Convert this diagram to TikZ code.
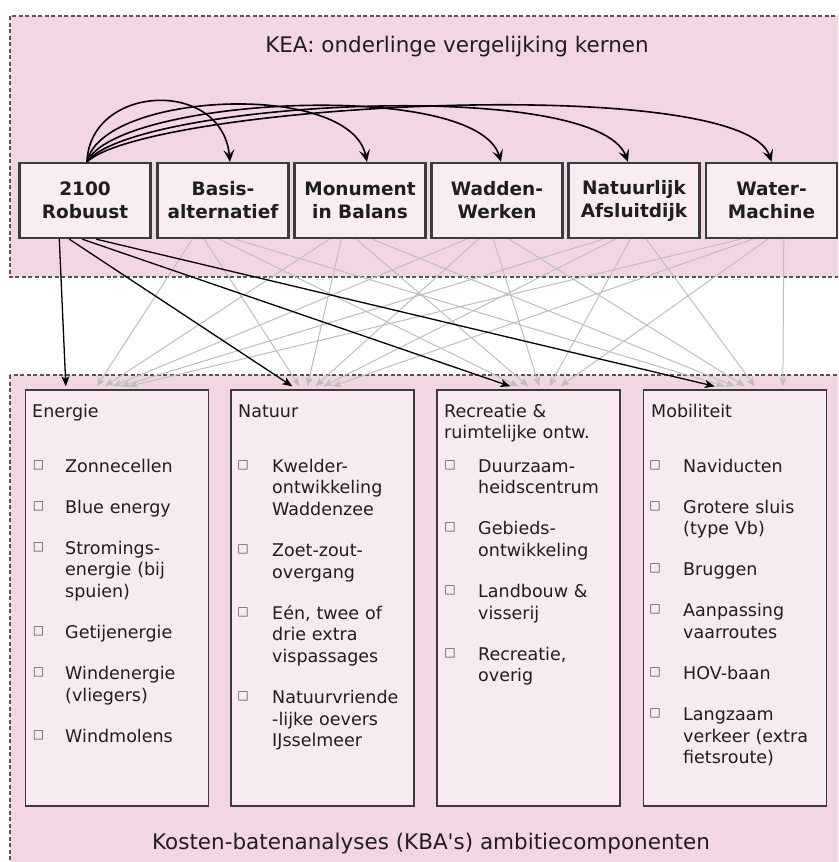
\documentclass[tikz,border=0pt]{standalone}
\usepackage{fontspec}
\usetikzlibrary{calc,arrows.meta}
\newfontfamily\dvsans{DejaVu Sans}
\definecolor{regpink}{RGB}{243,214,228}
\definecolor{boxpink}{RGB}{248,234,241}
\definecolor{tboxpink}{RGB}{249,237,243}
\definecolor{edgegray}{RGB}{60,60,60}
\definecolor{dashgray}{RGB}{85,85,85}
\definecolor{linegray}{RGB}{190,190,190}
\definecolor{txt}{RGB}{30,30,30}
\tikzset{
  region/.style={fill=regpink, draw=dashgray, line width=1.2pt, dash pattern=on 4pt off 2.5pt},
  tbox/.style={draw=edgegray, fill=tboxpink, line width=2.4pt, minimum width=131pt, minimum height=75pt,
    inner sep=0pt, align=center, text=txt, font={\dvsans\bfseries\fontsize{18.5}{23}\selectfont}},
  bbox/.style={draw=edgegray, fill=boxpink, line width=1.3pt, minimum width=183pt, minimum height=416pt, inner sep=0pt},
  title/.style={text=txt, inner sep=0pt, font={\dvsans\fontsize{21.5}{26}\selectfont}},
  head/.style={anchor=base west, inner sep=0pt, text=txt, text width=175pt, align=left,
    font={\dvsans\fontsize{17.5}{21.7}\selectfont}},
  itemtext/.style={anchor=base west, inner sep=0pt, text=txt, text width=150pt, align=left,
    font={\dvsans\fontsize{17.5}{21.7}\selectfont}},
  bul/.style={inner sep=0pt, text=black!70, font={\dvsans\fontsize{12}{14}\selectfont}},
  carrow/.style={draw=black, line width=1.6pt, -{Stealth[length=12pt,width=11pt,inset=5pt]}},
  karrow/.style={draw=black, line width=1.3pt, -{Stealth[length=10pt,width=8pt,inset=2.5pt]}},
  garrow/.style={draw=linegray, line width=1pt, -{Stealth[length=9pt,width=7pt,inset=2pt]}},
}
\begin{document}
\begin{tikzpicture}[x=1pt,y=-1pt]
\useasboundingbox (0,0) rectangle (838,862);
\clip (0,0) rectangle (838,862);
\fill[white] (0,0) rectangle (838,862);
% regions
\path[region] (10,16) rectangle (870,277);
\path[region] (10,375) rectangle (870,900);
\node[title] (kea) at (457,47) {KEA: onderlinge vergelijking kernen};
\node[title] (kba) at (431,844) {Kosten-batenanalyses (KBA's) ambitiecomponenten};
% top boxes
\node[tbox] (r1) at (85,200.5) {2100\\Robuust};
\node[tbox] (r2) at (223,200.5) {Basis-\\alternatief};
\node[tbox] (r3) at (360,200.5) {Monument\\in Balans};
\node[tbox] (r4) at (497,200.5) {Wadden-\\Werken};
\node[tbox] (r5) at (634,200.5) {Natuurlijk\\Afsluitdijk};
\node[tbox] (r6) at (771.5,200.5) {Water-\\Machine};
% bottom boxes
\node[bbox] (b1) at (117,598) {};
\node[bbox] (b2) at (322.5,598) {};
\node[bbox] (b3) at (528.5,598) {};
\node[bbox] (b4) at (735,598) {};
% grey arrows
\foreach \s/\o/\t/\e in {
  2/36/1/72, 3/36/1/80, 4/36/1/88, 5/36/1/96, 6/36/1/104,
  2/48/2/69, 3/48/2/77, 4/48/2/85, 5/48/2/93, 6/48/2/102,
  2/63/3/82, 3/63/3/92, 4/63/3/103, 5/63/3/113, 6/63/3/124,
  2/79/4/82, 3/79/4/92, 4/79/4/102, 5/79/4/112, 6/79/4/140}
  \draw[garrow] ($(r\s.south west)+(\o,0)$) -- ($(b\t.north west)+(\e,-3)$);
% black arrows
\foreach \o/\t/\e in {41/1/41, 51/2/62, 64/3/74, 78/4/72}
  \draw[karrow] ($(r1.south west)+(\o,0)$) -- ($(b\t.north west)+(\e,-3)$);
% curved arrows
\draw[carrow] ($(r1.north)+(2,0)$) .. controls (90,84) and (222,78) .. ($(r2.north)+(7,0)$);
\draw[carrow] ($(r1.north)+(2,0)$) .. controls (102,92) and (350,80) .. ($(r3.north)+(7,0)$);
\draw[carrow] ($(r1.north)+(2,0)$) .. controls (116,98) and (476,78) .. ($(r4.north)+(4,0)$);
\draw[carrow] ($(r1.north)+(2,0)$) .. controls (132,102) and (596,76) .. ($(r5.north)+(-6,0)$);
\draw[carrow] ($(r1.north)+(2,0)$) .. controls (150,104) and (742,72) .. ($(r6.north)+(0,0)$);
% Energie
\node[head] (h1) at (32,417) {Energie};
\node[itemtext] (e1) at (65,472) {Zonnecellen};
\node[itemtext] (e2) at (65,513) {Blue energy};
\node[itemtext] (e3) at (65,554) {Stromings-\\energie (bij\\spuien)};
\node[itemtext] (e4) at (65,638.4) {Getijenergie};
\node[itemtext] (e5) at (65,679.4) {Windenergie\\(vliegers)};
\node[itemtext] (e6) at (65,742.1) {Windmolens};
\foreach \y [count=\i] in {472,513,554,638.4,679.4,742.1}
  \node[bul] (eb\i) at (38.5,\y-7) {□};
% Natuur
\node[head] (h2) at (238,417) {Natuur};
\node[itemtext] (n1) at (272,472) {Kwelder-\\ontwikkeling\\Waddenzee};
\node[itemtext] (n2) at (272,556.4) {Zoet-zout-\\overgang};
\node[itemtext] (n3) at (272,619.1) {Eén, twee of\\drie extra\\vispassages};
\node[itemtext] (n4) at (272,703.5) {Natuurvriende\\-lijke oevers\\IJsselmeer};
\foreach \y [count=\i] in {472,556.4,619.1,703.5}
  \node[bul] (nb\i) at (243,\y-7) {□};
% Recreatie
\node[head] (h3) at (444,417) {Recreatie \&\\ruimtelijke ontw.};
\node[itemtext] (c1) at (478,472) {Duurzaam-\\heidscentrum};
\node[itemtext] (c2) at (478,534.7) {Gebieds-\\ontwikkeling};
\node[itemtext] (c3) at (478,597.4) {Landbouw \&\\visserij};
\node[itemtext] (c4) at (478,660.1) {Recreatie,\\overig};
\foreach \y [count=\i] in {472,534.7,597.4,660.1}
  \node[bul] (cb\i) at (450,\y-7) {□};
% Mobiliteit
\node[head] (h4) at (651,417) {Mobiliteit};
\node[itemtext] (m1) at (683,472) {Naviducten};
\node[itemtext] (m2) at (683,513) {Grotere sluis\\(type Vb)};
\node[itemtext] (m3) at (683,575.7) {Bruggen};
\node[itemtext] (m4) at (683,616.7) {Aanpassing\\vaarroutes};
\node[itemtext] (m5) at (683,679.4) {HOV-baan};
\node[itemtext] (m6) at (683,720.4) {Langzaam\\verkeer (extra\\fietsroute)};
\foreach \y [count=\i] in {472,513,575.7,616.7,679.4,720.4}
  \node[bul] (mb\i) at (655,\y-7) {□};
\end{tikzpicture}
\end{document}
